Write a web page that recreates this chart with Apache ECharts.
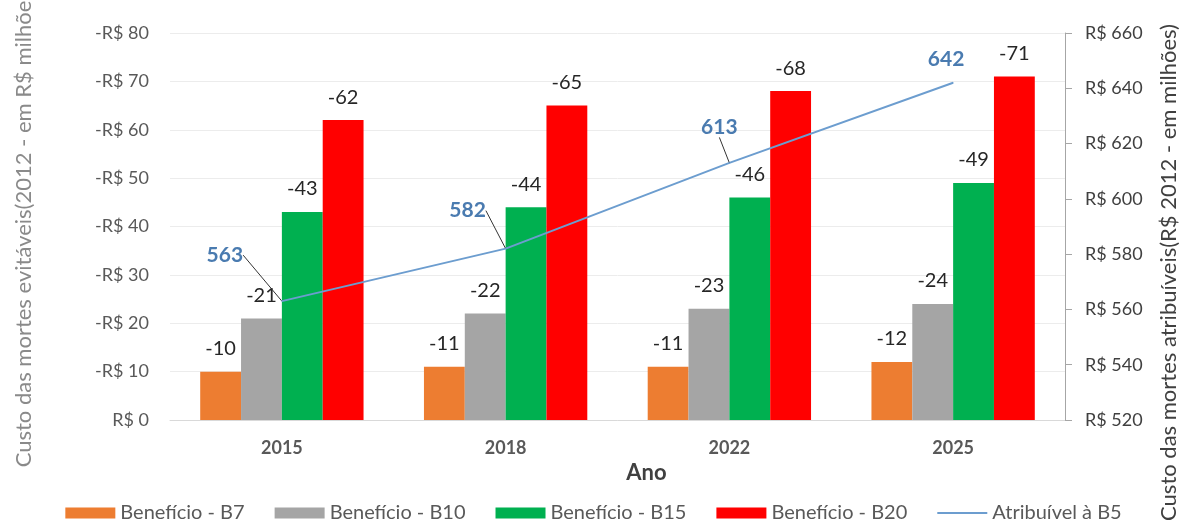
<!DOCTYPE html>
<html>
<head>
<meta charset="utf-8">
<script src="https://cdn.jsdelivr.net/npm/echarts@6/dist/echarts.min.js"></script>
<style>
  html, body { margin: 0; padding: 0; background: #ffffff; }
  #chart { width: 1187px; height: 520px; }
</style>
</head>
<body>
<div id="chart"></div>
<script>
// Years on the category axis
const years = ['2015', '2018', '2022', '2025'];

// Avoidable-death benefits (R$ million, 2012 prices), stored as negative values
const beneficioB7  = [-10, -11, -11, -12];
const beneficioB10 = [-21, -22, -23, -24];
const beneficioB15 = [-43, -44, -46, -49];
const beneficioB20 = [-62, -65, -68, -71];

// Cost of deaths attributable to B5 (R$ million, 2012 prices)
const atribuivelB5 = [563, 582, 613, 642];

// Offsets of the line value labels from their default position
const lineLabelShift = [[-57, -30], [-38, -22], [-10, -20], [-7, -8]];

const FONT = 'Lato, "Open Sans", sans-serif';

const chart = echarts.init(document.getElementById('chart'), null, { renderer: 'canvas' });

function barSeries(name, data, color) {
  return {
    name: name,
    type: 'bar',
    data: data,
    yAxisIndex: 0,
    barGap: '0%',
    barCategoryGap: '27%',
    itemStyle: { color: color },
    label: {
      show: true,
      position: 'top',
      distance: 13,
      fontFamily: FONT,
      fontSize: 20,
      color: '#262626',
      formatter: (p) => String(p.value)
    },
    z: 2
  };
}

chart.setOption({
  animation: false,
  textStyle: { fontFamily: FONT },
  grid: { left: 170, right: 122, top: 33, bottom: 100, containLabel: false, outerBoundsMode: 'none' },
  legend: {
    top: 498,
    left: 'center',
    itemWidth: 50,
    itemHeight: 11,
    itemGap: 30,
    textStyle: { fontFamily: FONT, fontSize: 20, color: '#595959' },
    data: [
      { name: 'Benefício - B7', icon: 'rect' },
      { name: 'Benefício - B10', icon: 'rect' },
      { name: 'Benefício - B15', icon: 'rect' },
      { name: 'Benefício - B20', icon: 'rect' },
      { name: 'Atribuível à B5', icon: 'path://M0,0 L50,0 L50,2 L0,2 Z' }
    ]
  },
  xAxis: {
    type: 'category',
    data: years,
    name: 'Ano',
    nameLocation: 'middle',
    nameGap: 30,
    nameTextStyle: { fontFamily: FONT, fontSize: 22, fontWeight: 'bold', color: '#404040', padding: [0, 0, 0, 58] },
    axisLine: { lineStyle: { color: '#d9d9d9', width: 1 } },
    axisTick: { show: false },
    axisLabel: { fontFamily: FONT, fontSize: 18, fontWeight: 'bold', color: '#595959', margin: 19 }
  },
  yAxis: [
    {
      type: 'value',
      min: -80,
      max: 0,
      interval: 10,
      inverse: true,
      name: 'Custo das mortes evitáveis(2012 - em R$ milhões)',
      nameLocation: 'middle',
      nameRotate: 90,
      nameGap: 135,
      nameTextStyle: { fontFamily: FONT, fontSize: 22, color: '#8a8a8a' },
      axisLine: { show: false },
      axisTick: { show: false },
      axisLabel: {
        fontFamily: FONT, fontSize: 18, color: '#595959', margin: 21,
        formatter: (v) => (v === 0 ? 'R$ 0' : '-R$ ' + Math.abs(v))
      },
      splitLine: { lineStyle: { color: '#ececec', width: 1 } }
    },
    {
      type: 'value',
      min: 520,
      max: 660,
      interval: 20,
      position: 'right',
      name: 'Custo das mortes atribuíveis(R$ 2012 - em milhões)',
      nameLocation: 'middle',
      nameRotate: 90,
      nameGap: 93,
      nameTextStyle: { fontFamily: FONT, fontSize: 22, color: '#404040', padding: [0, 92, 0, 0] },
      axisLine: { show: true, lineStyle: { color: '#a6a6a6', width: 1 } },
      axisTick: { show: true, inside: false, length: 7, lineStyle: { color: '#a6a6a6' } },
      axisLabel: {
        fontFamily: FONT, fontSize: 18, color: '#404040', margin: 20,
        formatter: (v) => 'R$ ' + v
      },
      splitLine: { show: false }
    }
  ],
  series: [
    barSeries('Benefício - B7', beneficioB7, '#ed7d31'),
    barSeries('Benefício - B10', beneficioB10, '#a5a5a5'),
    barSeries('Benefício - B15', beneficioB15, '#00b050'),
    barSeries('Benefício - B20', beneficioB20, '#ff0000'),
    {
      name: 'Atribuível à B5',
      type: 'line',
      yAxisIndex: 1,
      data: atribuivelB5.map((v, i) => (i === atribuivelB5.length - 1
        ? { value: v, labelLine: { show: false } }
        : { value: v })),
      symbol: 'circle',
      symbolSize: 1,
      showSymbol: true,
      lineStyle: { color: '#6c9dcf', width: 2 },
      itemStyle: { color: '#6c9dcf' },
      label: {
        show: true,
        position: 'top',
        fontFamily: FONT,
        fontSize: 21,
        fontWeight: 'bold',
        color: '#4a7bb0',
        formatter: (p) => String(p.value)
      },
      labelLine: { show: true, lineStyle: { color: '#333333', width: 1 } },
      labelLayout: (p) => ({ dx: lineLabelShift[p.dataIndex][0], dy: lineLabelShift[p.dataIndex][1] }),
      z: 5
    }
  ]
});
</script>
</body>
</html>
